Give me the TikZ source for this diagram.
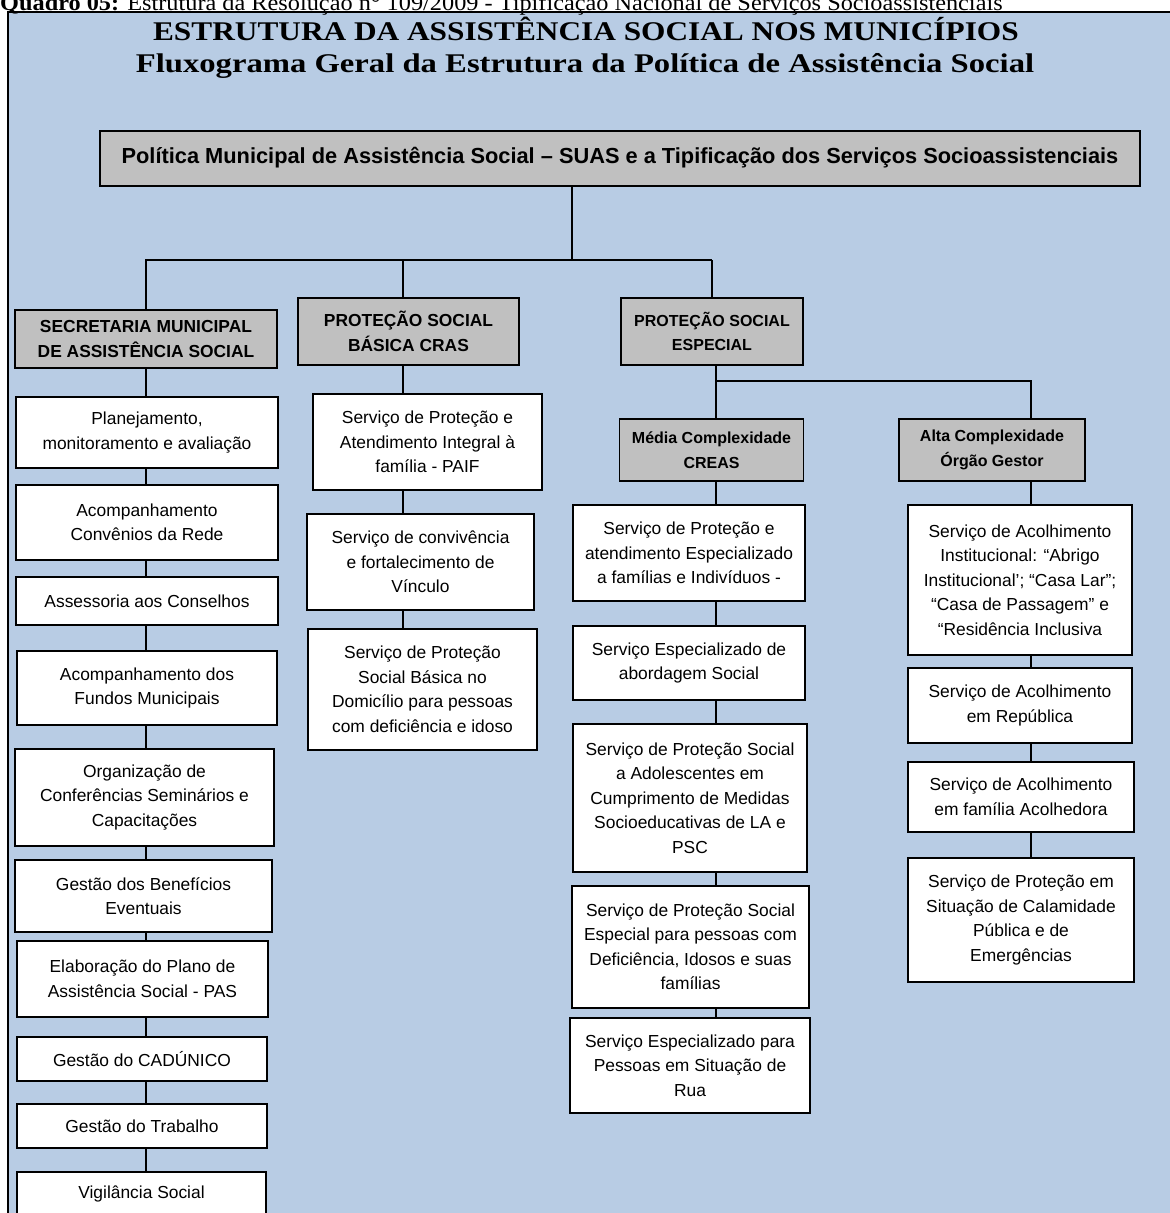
\documentclass[tikz,border=0pt]{standalone}
\usepackage{fontspec}
\setmainfont{Liberation Sans}
\newfontfamily\capfont[FakeStretch=1.08]{Liberation Serif}
\newfontfamily\headfont[FakeStretch=1.16]{Liberation Serif}
\newfontfamily\subheadfont[FakeStretch=1.21]{Liberation Serif}
\usetikzlibrary{positioning}
\definecolor{frameblue}{HTML}{B8CCE4}
\definecolor{boxgray}{HTML}{C0C0C0}

\begin{document}
\begin{tikzpicture}[x=1pt, y=-1pt,
  svcbox/.style={draw, line width=1.3pt, fill=white, align=center, inner sep=0pt,
                 font=\fontsize{17.4}{24.5}\selectfont},
  headbox/.style={svcbox, fill=boxgray, font=\fontsize{17.4}{24.5}\selectfont\bfseries},
  subhead/.style={headbox, font=\fontsize{16}{24.5}\selectfont\bfseries},
  link/.style={line width=1.4pt},
]
\useasboundingbox (0,0) rectangle (1170,1213);
% blue frame, cut off at right and bottom
\fill[frameblue] (8,12) rectangle (1185,1230);
\draw[line width=2pt] (8,1230) -- (8,12) -- (1185,12);
\node[anchor=base west, inner sep=0pt, font=\capfont\fontsize{22.5}{22.5}\selectfont] (caption) at (0,10)
  {\textbf{Quadro 05:} Estrutura da Resolução n° 109/2009 - Tipificação Nacional de Serviços Socioassistenciais};

% titles
\node[anchor=base, inner sep=0pt, font=\headfont\bfseries\fontsize{27}{27}\selectfont] (title) at (586,40)
  {ESTRUTURA DA ASSISTÊNCIA SOCIAL NOS MUNICÍPIOS};
\node[anchor=base, inner sep=0pt, font=\subheadfont\bfseries\fontsize{27}{27}\selectfont] (subtitle) at (585,72)
  {Fluxograma Geral da Estrutura da Política de Assistência Social};

% top box
\node[headbox, minimum width=1040, minimum height=55, font=\fontsize{21.8}{24}\selectfont\bfseries] (suas) at (620,158.5)
  {\raisebox{6pt}{Política Municipal de Assistência Social – SUAS e a Tipificação dos Serviços Socioassistenciais}};

% spines of the columns
\coordinate (top) at (572,260);
\coordinate (secline) at (146,0);
\coordinate (crasline) at (403,0);
\coordinate (medline) at (716,0);
\coordinate (altaline) at (1031,0);
\coordinate (espbar) at (0,381);

% column headers
\node[headbox, minimum width=262, minimum height=58] (sec) at (146,339) {SECRETARIA MUNICIPAL\\DE ASSISTÊNCIA SOCIAL};
\node[headbox, minimum width=221, minimum height=67] (cras) at (408.5,331.5) {PROTEÇÃO SOCIAL\\BÁSICA CRAS};
\node[subhead, minimum width=182, minimum height=67] (esp) at (712,331.5) {PROTEÇÃO SOCIAL\\ESPECIAL};
\node[subhead, minimum width=184, minimum height=62] (med) at (711.5,450) {Média Complexidade\\CREAS};
\node[subhead, minimum width=186, minimum height=62] (alta) at (992,450) {Alta Complexidade\\Órgão Gestor};

% secretaria column
\foreach \nm/\cx/\cy/\w/\h/\txt in {%
  sec1/147/432.5/262/71/{Planejamento,\\monitoramento e avaliação},
  sec2/147/522.5/262/75/{Acompanhamento\\Convênios da Rede},
  sec3/147/601/262/48/{Assessoria aos Conselhos},
  sec4/147/688/260/74/{Acompanhamento dos\\Fundos Municipais},
  sec5/144.5/797.5/259/97/{Organização de\\Conferências Seminários e\\Capacitações},
  sec6/143.5/896/257/72/{Gestão dos Benefícios\\Eventuais},
  sec7/142.5/979/251/76/{Elaboração do Plano de\\Assistência Social - PAS},
  sec8/142/1059/250/44/{Gestão do CADÚNICO},
  sec9/142/1126/250/44/{Gestão do Trabalho},
  sec10/141.5/1193.5/249/43/{Vigilância Social}%
} {
  \node[svcbox, minimum width=\w, minimum height=\h] (\nm) at (\cx,\cy) {\txt};
}

% basica column
\foreach \nm/\cx/\cy/\w/\h/\txt in {%
  cras1/427.5/442/229/96/{Serviço de Proteção e\\Atendimento Integral à\\família - PAIF},
  cras2/420.5/562/227/96/{Serviço de convivência\\e fortalecimento de\\Vínculo},
  cras3/422.5/689.5/229/121/{Serviço de Proteção\\Social Básica no\\Domicílio para pessoas\\com deficiência e idoso}%
} {
  \node[svcbox, minimum width=\w, minimum height=\h] (\nm) at (\cx,\cy) {\txt};
}

% media complexidade column
\foreach \nm/\cx/\cy/\w/\h/\txt in {%
  med1/689/553/232/96/{Serviço de Proteção e\\atendimento Especializado\\a famílias e Indivíduos -},
  med2/689/663/232/74/{Serviço Especializado de\\abordagem Social},
  med3/690/798/234/148/{Serviço de Proteção Social\\a Adolescentes em\\Cumprimento de Medidas\\Socioeducativas de LA e\\PSC},
  med4/690.5/947/237/122/{Serviço de Proteção Social\\Especial para pessoas com\\Deficiência, Idosos e suas\\famílias},
  med5/690/1065.5/240/95/{Serviço Especializado para\\Pessoas em Situação de\\Rua}%
} {
  \node[svcbox, minimum width=\w, minimum height=\h] (\nm) at (\cx,\cy) {\txt};
}

% alta complexidade column
\foreach \nm/\cx/\cy/\w/\h/\txt in {%
  alta1/1020/580/224/150/{Serviço de Acolhimento\\Institucional: “Abrigo\\Institucional’; “Casa Lar”;\\“Casa de Passagem” e\\“Residência Inclusiva},
  alta2/1020/705.5/224/75/{Serviço de Acolhimento\\em República},
  alta3/1021/797/226/70/{Serviço de Acolhimento\\em família Acolhedora},
  alta4/1021/920/226/124/{Serviço de Proteção em\\Situação de Calamidade\\Pública e de\\Emergências}%
} {
  \node[svcbox, minimum width=\w, minimum height=\h] (\nm) at (\cx,\cy) {\txt};
}

% connectors
\draw[link] (top |- suas.south) -- (top);
\draw[link] (sec.north -| secline) |- (esp.north |- top);
\draw[link] (cras.north -| crasline) -- (crasline |- top);
\draw[link] (esp.north) -- (esp.north |- top);
\draw[link] (esp.south -| medline) -- (med.north -| medline);
\draw[link] (medline |- espbar) -- (altaline |- espbar) -- (alta.north -| altaline);
\foreach \a/\b in {sec/sec1, sec1/sec2, sec2/sec3, sec3/sec4, sec4/sec5, sec5/sec6, sec6/sec7, sec7/sec8, sec8/sec9, sec9/sec10}
  \draw[link] (\a.south -| secline) -- (\b.north -| secline);
\foreach \a/\b in {cras/cras1, cras1/cras2, cras2/cras3}
  \draw[link] (\a.south -| crasline) -- (\b.north -| crasline);
\foreach \a/\b in {med/med1, med1/med2, med2/med3, med3/med4, med4/med5}
  \draw[link] (\a.south -| medline) -- (\b.north -| medline);
\foreach \a/\b in {alta/alta1, alta1/alta2, alta2/alta3, alta3/alta4}
  \draw[link] (\a.south -| altaline) -- (\b.north -| altaline);
\end{tikzpicture}
\end{document}
